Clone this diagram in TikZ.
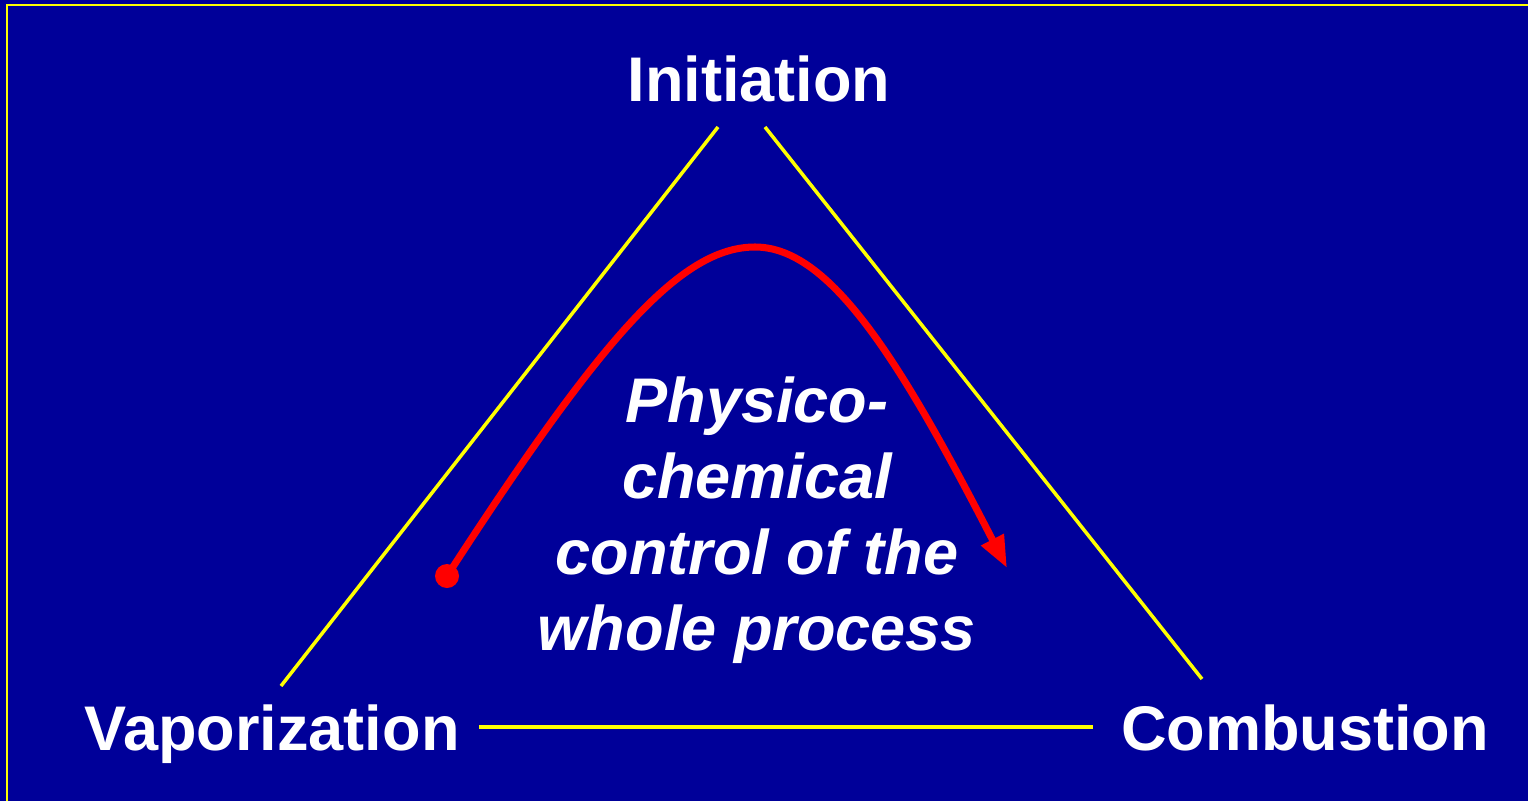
\documentclass[tikz,border=0pt]{standalone}
\usepackage{fontspec}
\setmainfont{Liberation Sans}
\usetikzlibrary{arrows.meta,positioning}
\definecolor{slideblue}{RGB}{0,0,153}
\definecolor{slideyellow}{RGB}{255,255,0}
\definecolor{slidered}{RGB}{255,0,0}

\begin{document}
\begin{tikzpicture}[x=0.02cm, y=-0.02cm, font=\fontsize{35.9}{43.2}\selectfont\bfseries,
  side/.style={slideyellow, line width=2pt},
  label/.style={white, inner sep=0pt, anchor=base}]
\useasboundingbox (0,0) rectangle (1528,801);
% background and frame
\fill[slideblue] (0,0) rectangle (1528,801);
\draw[slideyellow, line width=1.3pt] (7,801) -- (7,5) -- (1528,5);
% corner labels
\node[label] (init) at (759,101) {Initiation};
\node[label] (vapor) at (272,750) {Vaporization};
\node[label] (comb) at (1305,750) {Combustion};
% triangle sides
\coordinate (topl) at (718,127);
\coordinate (topr) at (765,127);
\coordinate (left) at (281,686);
\coordinate (right) at (1202,679);
\coordinate (botl) at (479,727);
\coordinate (botr) at (1093,727);
\draw[side] (topl) -- (left);
\draw[side] (topr) -- (right);
\draw[side] (botl) -- (botr);
% centre text
\node[label, align=center, font=\fontsize{35.9}{43.2}\selectfont\bfseries\itshape] (ctrl) at (757,650)
  {Physico-\\chemical\\control of the\\whole process};
% red arc
\coordinate (start) at (447,576);
\coordinate (peak) at (755,247);
\coordinate (tip) at (1007,568);
\fill[slidered] (start) circle (12);
\draw[slidered, line width=4pt, -{Triangle[length=32*0.02cm, width=24*0.02cm]}]
  (start) .. controls (600,340) and (680,247) .. (peak)
  .. controls (830,247) and (900,360) .. (tip);
\end{tikzpicture}
\end{document}
